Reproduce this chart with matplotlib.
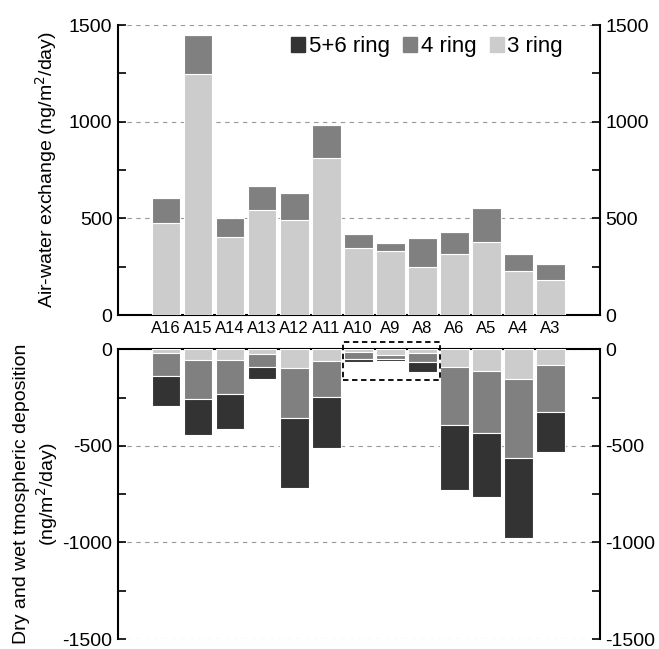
import numpy as np
import matplotlib
matplotlib.use('Agg')
import matplotlib.pyplot as plt
from matplotlib.patches import Rectangle, Patch

plt.rcParams['font.family'] = ['Liberation Sans', 'DejaVu Sans']
plt.rcParams['axes.unicode_minus'] = False

sites = ['A16', 'A15', 'A14', 'A13', 'A12', 'A11', 'A10', 'A9', 'A8', 'A6', 'A5', 'A4', 'A3']

# air-water exchange (ng/m2/day)
aw_ring3 = [475, 1245, 403, 543, 491, 814, 345, 333, 250, 315, 378, 228, 179]
aw_ring4 = [130, 205, 97, 126, 142, 169, 72, 38, 150, 113, 175, 86, 83]
aw_ring56 = [0, 0, 0, 0, 0, 0, 0, 0, 0, 0, 0, 0, 0]

# dry and wet atmospheric deposition (ng/m2/day), magnitudes
dep_ring3 = [21, 54, 54, 26, 98, 60, 16, 28, 21, 91, 110, 153, 79]
dep_ring4 = [115, 201, 175, 67, 259, 185, 32, 24, 43, 302, 321, 411, 244]
dep_ring56 = [157, 188, 182, 62, 359, 267, 16, 10, 55, 337, 333, 412, 207]

c3 = '#cccccc'
c4 = '#808080'
c56 = '#333333'

x = np.arange(len(sites))
w = 0.9

fig = plt.figure(figsize=(6.59, 6.49), dpi=100)
ax1 = fig.add_axes([0.179, 0.5146, 0.7314, 0.4468])
ax2 = fig.add_axes([0.179, 0.0154, 0.7314, 0.4464])

# top panel
r3 = np.array(aw_ring3)
r4 = np.array(aw_ring4)
r56 = np.array(aw_ring56)
ax1.bar(x, r3, w, color=c3, edgecolor='white', linewidth=0.8, zorder=3)
ax1.bar(x, r4, w, bottom=r3, color=c4, edgecolor='white', linewidth=0.8, zorder=3)
ax1.bar(x, r56, w, bottom=r3 + r4, color=c56, edgecolor='white', linewidth=0.8, zorder=3)

# bottom panel (negative, stacked downward)
d3 = -np.array(dep_ring3)
d4 = -np.array(dep_ring4)
d56 = -np.array(dep_ring56)
ax2.bar(x, d3, w, color=c3, edgecolor='white', linewidth=0.8, zorder=3)
ax2.bar(x, d4, w, bottom=d3, color=c4, edgecolor='white', linewidth=0.8, zorder=3)
ax2.bar(x, d56, w, bottom=d3 + d4, color=c56, edgecolor='white', linewidth=0.8, zorder=3)

for ax in (ax1, ax2):
    ax.set_xlim(-1.5, 13.55)
    ax.yaxis.grid(True, linestyle=(0, (4, 4)), color='#999999', linewidth=0.8)
    ax.set_axisbelow(True)
    ax.tick_params(axis='y', which='both', direction='in', left=True, right=True,
                   labelleft=True, labelright=True, labelsize=14, length=6, width=1.2, pad=4)
    for s in ['left', 'right']:
        ax.spines[s].set_linewidth(1.5)

ax1.set_ylim(0, 1500)
ax1.set_yticks([0, 500, 1000, 1500])
ax1.set_yticks([250, 750, 1250], minor=True)
ax1.spines['top'].set_visible(False)
ax1.spines['bottom'].set_linewidth(1.5)
ax1.set_xticks(x)
ax1.set_xticklabels(sites, fontsize=12)
ax1.tick_params(axis='x', length=0, pad=4)
ax1.set_ylabel('Air-water exchange (ng/m$^2$/day)', fontsize=14, labelpad=7)

ax2.set_ylim(-1500, 0)
ax2.set_yticks([-1500, -1000, -500, 0])
ax2.set_yticks([-1250, -750, -250], minor=True)
ax2.spines['bottom'].set_visible(False)
ax2.spines['top'].set_linewidth(1.5)
ax2.set_xticks([])
ax2.set_ylabel('Dry and wet tmospheric deposition\n(ng/m$^2$/day)', fontsize=14, labelpad=2)

# dashed box around A10-A8
ax2.add_patch(Rectangle((5.52, -160), 3.03, 200, fill=False, linestyle=(0, (3, 2)),
                        edgecolor='black', linewidth=1.3, clip_on=False, zorder=5))

handles = [Patch(color=c56), Patch(color=c4), Patch(color=c3)]
ax1.legend(handles, ['5+6 ring', '4 ring', '3 ring'], ncol=3, frameon=False,
           loc='upper right', bbox_to_anchor=(0.965, 1.03), fontsize=16,
           handlelength=0.65, handleheight=0.65, handletextpad=0.15, columnspacing=0.6)

fig.savefig('out.png', dpi=100)
